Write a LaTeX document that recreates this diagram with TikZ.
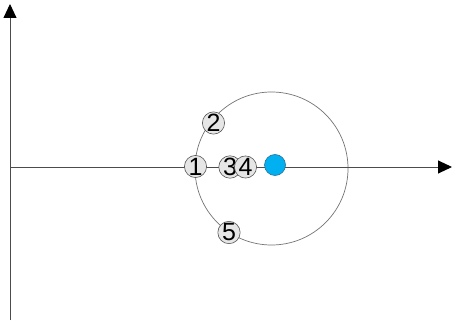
\documentclass[tikz,border=0pt]{standalone}
\usepackage{fontspec}
\setmainfont{Liberation Sans}
\usetikzlibrary{arrows.meta}
\definecolor{dotfill}{HTML}{E6E6E6}
\definecolor{dotline}{HTML}{555555}
\definecolor{bluefill}{HTML}{00B0F0}
\definecolor{blueline}{HTML}{2A6F9A}
\tikzset{
  dot/.style={circle, draw=dotline, fill=dotfill, line width=0.6pt, minimum size=20pt, inner sep=0pt, font=\fontsize{25}{25}\selectfont, text=black},
  bluedot/.style={circle, draw=blueline, fill=bluefill, line width=0.6pt, minimum size=21pt, inner sep=0pt},
  axis/.style={line width=0.9pt, draw=black!70, -{Triangle[length=14pt,width=13pt,fill=black,color=black]}},
  orbit/.style={line width=0.7pt, draw=black!55}
}
\begin{document}
\begin{tikzpicture}[x=1pt,y=-1pt]
\useasboundingbox (0,0) rectangle (452,323);
\coordinate (o) at (10,167);
\coordinate (ytop) at (10,4);
\coordinate (ybot) at (10,320);
\coordinate (xend) at (452,167);
\coordinate (c) at (271.5,168.5);
\draw[orbit] (c) circle (76.5);
\draw[axis] (ybot) -- (ytop);
\draw[axis] (o) -- (xend);
\node[dot] (n1) at (195.5,166.5) {1};
\node[dot] (n2) at (213.5,123) {2};
\node[dot] (n3) at (230,167) {3};
\node[dot] (n4) at (245.5,167) {4};
\node[dot] (n5) at (229,232.5) {5};
\node[bluedot] (b) at (275,165) {};
\end{tikzpicture}
\end{document}
